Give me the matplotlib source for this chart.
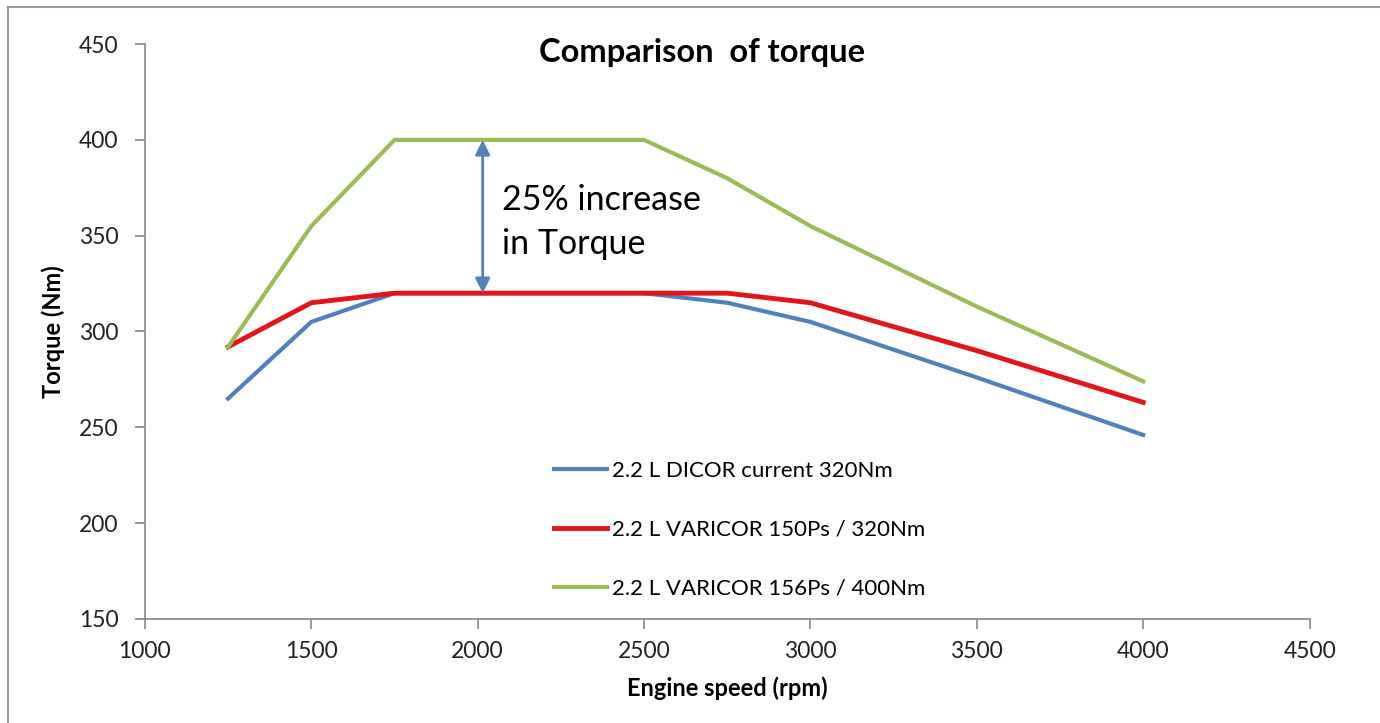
import matplotlib
matplotlib.use("Agg")
import matplotlib.pyplot as plt
from matplotlib.lines import Line2D

plt.rcParams['font.family'] = ['Lato', 'DejaVu Sans']

rpm = [1250, 1500, 1750, 2000, 2500, 2750, 3000, 3500, 4000]
dicor = [265, 305, 320, 320, 320, 315, 305, 276, 246]
varicor150 = [292, 315, 320, 320, 320, 320, 315, 290, 263]
varicor156 = [292, 355, 400, 400, 400, 380, 355, 313, 274]
labels = ["2.2 L DICOR current 320Nm", "2.2 L VARICOR 150Ps / 320Nm", "2.2 L VARICOR 156Ps / 400Nm"]
colors = ["#4F81BD", "#E3151B", "#9BBB59"]
xticks = [1000, 1500, 2000, 2500, 3000, 3500, 4000, 4500]
yticks = [150, 200, 250, 300, 350, 400, 450]
arrow_x = 2015
arrow_low, arrow_high = 320, 400

fig = plt.figure(figsize=(13.8, 7.23), dpi=100)
ax = fig.add_axes([0.105, 0.144, 0.844, 0.795])

ax.plot(rpm, dicor, color=colors[0], lw=3, label=labels[0])
ax.plot(rpm, varicor150, color=colors[1], lw=3.5, label=labels[1])
ax.plot(rpm, varicor156, color=colors[2], lw=3, label=labels[2])

ax.set_xlim(1000, 4500)
ax.set_ylim(150, 450)
ax.set_xticks(xticks)
ax.set_yticks(yticks)
ax.tick_params(labelsize=16.5, colors='#888888', labelcolor='#222222', length=7, width=1.2)
ax.tick_params(axis='y', pad=12)
ax.tick_params(axis='x', pad=9)
for s in ['top', 'right']:
    ax.spines[s].set_visible(False)
for s in ['left', 'bottom']:
    ax.spines[s].set_color('#888888')
    ax.spines[s].set_linewidth(1.2)

ax.set_xlabel("Engine speed (rpm)", fontsize=17, fontweight='bold', labelpad=10)
ax.set_ylabel("Torque (Nm)", fontsize=17, fontweight='bold', labelpad=10)
fig.text(0.509, 0.928, "Comparison  of torque", fontsize=23.5, fontweight='bold', ha='center', va='center')

ax.annotate("", xy=(arrow_x, arrow_high), xytext=(arrow_x, arrow_low),
            arrowprops=dict(arrowstyle='<|-|>', color='#4F81BD', lw=2, mutation_scale=22, shrinkA=0, shrinkB=0))
ax.text(arrow_x + 58, 377, "25% increase\nin Torque", fontsize=24.5, va='top', ha='left', linespacing=1.45, color='black')

leg = ax.legend(loc='center left', bbox_to_anchor=(0.334, 0.155), frameon=False, fontsize=16,
                labelspacing=1.75, handlelength=2.4, handletextpad=0.2)

# outer border
fig.add_artist(Line2D([0.006, 0.006], [0.0, 0.99], transform=fig.transFigure, color='#999999', lw=1.5))
fig.add_artist(Line2D([0.006, 1.0], [0.99, 0.99], transform=fig.transFigure, color='#999999', lw=1.5))

fig.savefig("out.png", dpi=100)
